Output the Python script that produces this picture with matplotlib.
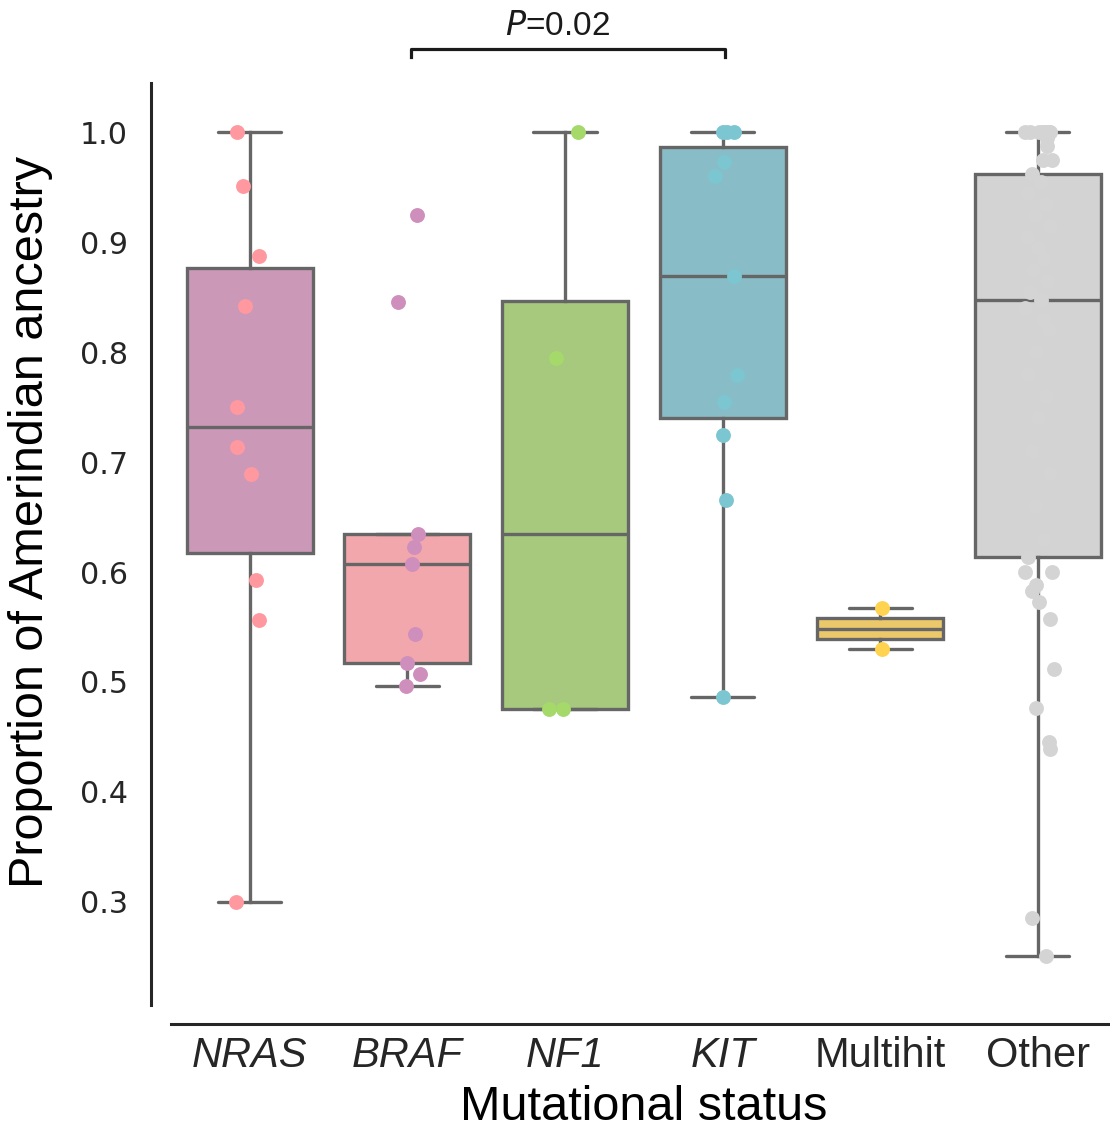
import matplotlib
matplotlib.use("Agg")
import matplotlib.pyplot as plt
from matplotlib import font_manager
from matplotlib.font_manager import FontProperties
import numpy as np

# Ancestry proportions per mutational group
groups = ["NRAS", "BRAF", "NF1", "KIT", "Multihit", "Other"]
italic_groups = ["NRAS", "BRAF", "NF1", "KIT"]

nras = [1.0, 0.951, 0.888, 0.842, 0.750, 0.714, 0.689, 0.593, 0.556, 0.300]
braf = [0.925, 0.846, 0.635, 0.623, 0.607, 0.544, 0.517, 0.507, 0.496]
nf1 = [1.0, 0.795, 0.475, 0.475]
kit = [1.0, 1.0, 1.0, 0.973, 0.960, 0.869, 0.779, 0.755, 0.725, 0.666, 0.486]
multihit = [0.567, 0.530]
other = [1.0, 1.0, 1.0, 1.0, 1.0, 1.0, 1.0, 1.0, 0.995, 0.988, 0.975, 0.962,
         0.955, 0.945, 0.935, 0.925, 0.915, 0.905, 0.895, 0.885, 0.875, 0.865,
         0.855, 0.848, 0.840, 0.830, 0.820, 0.800, 0.780, 0.760, 0.740, 0.710,
         0.690, 0.660, 0.630, 0.614, 0.600, 0.600, 0.588, 0.583, 0.573, 0.557,
         0.512, 0.476, 0.445, 0.439, 0.285, 0.251, 0.975]

# horizontal jitter of each strip point (category units)
nras_jit = [-0.08, -0.04, 0.06, -0.03, -0.08, -0.08, 0.01, 0.04, 0.06, -0.09]
braf_jit = [0.06, -0.06, 0.07, 0.04, 0.03, 0.05, 0.0, 0.08, -0.01]
nf1_jit = [0.08, -0.06, -0.10, -0.01]
kit_jit = [0.0, 0.07, 0.03, 0.01, -0.05, 0.07, 0.09, 0.01, 0.0, 0.02, 0.0]
multihit_jit = [0.01, 0.01]
other_jit = [-0.08, 0.03, 0.06, 0.08, 0.04, 0.07, -0.05, 0.01, 0.06, 0.06, 0.03,
             -0.04, 0.02, -0.06, 0.05, -0.02, 0.08, -0.07, 0.0, 0.04, -0.03, 0.06,
             -0.05, 0.02, -0.08, 0.03, 0.07, -0.01, -0.06, 0.05, 0.0, -0.04, 0.08,
             -0.02, 0.04, -0.06, -0.08, 0.09, -0.01, -0.04, 0.01, 0.08, 0.10,
             -0.01, 0.07, 0.08, -0.04, 0.05, 0.09]

box_colors = ["#cb98b8", "#f1a7ab", "#a6c97d", "#88bcc7", "#ebc86a", "#d3d3d3"]
point_colors = ["#ff999f", "#cf8fbd", "#a5da6b", "#7cc6d1", "#ffd24f", "#d4d4d4"]

data = [nras, braf, nf1, kit, multihit, other]
jitters = [nras_jit, braf_jit, nf1_jit, kit_jit, multihit_jit, other_jit]

plt.rcParams['font.family'] = ['Liberation Sans', 'DejaVu Sans']


def italic_family():
    # first sans family that really ships an italic face
    for fam in ['Liberation Sans', 'Roboto', 'Noto Sans', 'Open Sans', 'Lato',
                'Inter', 'DejaVu Sans']:
        try:
            path = font_manager.findfont(FontProperties(family=fam, style='italic'),
                                         fallback_to_default=False)
        except Exception:
            continue
        name = path.lower()
        if 'italic' in name or 'oblique' in name:
            return fam
    return 'DejaVu Sans'


ital_fam = italic_family()

fig = plt.figure(figsize=(11.1, 11.31), dpi=100)
ax = fig.add_axes([0.154, 0.1114, 0.852, 0.8152])

# spines first: moving them resets the tick objects
for side in ['top', 'right']:
    ax.spines[side].set_visible(False)
for side in ['left', 'bottom']:
    ax.spines[side].set_position(('outward', 14))
    ax.spines[side].set_linewidth(2.2)
    ax.spines[side].set_color('#262626')

edge = "#666666"
pos = np.arange(len(groups))
bp = ax.boxplot(data, positions=pos, widths=0.8, whis=1.5, patch_artist=True,
                showfliers=False,
                boxprops=dict(edgecolor=edge, linewidth=2.4),
                whiskerprops=dict(color=edge, linewidth=2.4),
                capprops=dict(color=edge, linewidth=2.4, solid_capstyle='round'),
                medianprops=dict(color=edge, linewidth=2.4))
for patch, c in zip(bp['boxes'], box_colors):
    patch.set_facecolor(c)

for i, (vals, jit) in enumerate(zip(data, jitters)):
    ax.scatter(np.array(jit) + i, vals, s=115, color=point_colors[i],
               linewidths=0, zorder=5)

ax.set_xlim(-0.5, 5.5)
ax.set_ylim(0.206, 1.045)
ax.tick_params(axis='both', length=0, colors='#262626')
ax.tick_params(axis='y', pad=17, labelsize=21.7)
ax.tick_params(axis='x', pad=8, labelsize=30)

yt = np.arange(0.3, 1.01, 0.1)
ax.set_yticks(yt)
ax.set_yticklabels([f"{v:.1f}" for v in yt], family='DejaVu Sans', fontsize=21.7)
ax.set_xticks(pos)
ax.set_xticklabels(groups, fontsize=30)
for tick, g in zip(ax.xaxis.get_major_ticks(), groups):
    if g in italic_groups:
        tick.label1.set_fontproperties(
            FontProperties(family=ital_fam, style='italic', size=30))

ax.set_xlabel("Mutational status", fontsize=35, labelpad=7)
ax.set_ylabel("Proportion of Amerindian ancestry", fontsize=35, labelpad=19,
              y=0.524)

# significance bracket between BRAF and KIT
y_br, h_br = 1.0764, 0.008
x1, x2 = 1.025, 3.015
ax.plot([x1, x1, x2, x2], [y_br - h_br, y_br, y_br, y_br - h_br],
        color='#1a1a1a', linewidth=2.3, clip_on=False)
ax.text(1.955, y_br + 0.006, r"$\it{P}$=0.02", ha='center', va='bottom',
        fontsize=24, color='#1a1a1a')

fig.savefig("out.png", dpi=100)
